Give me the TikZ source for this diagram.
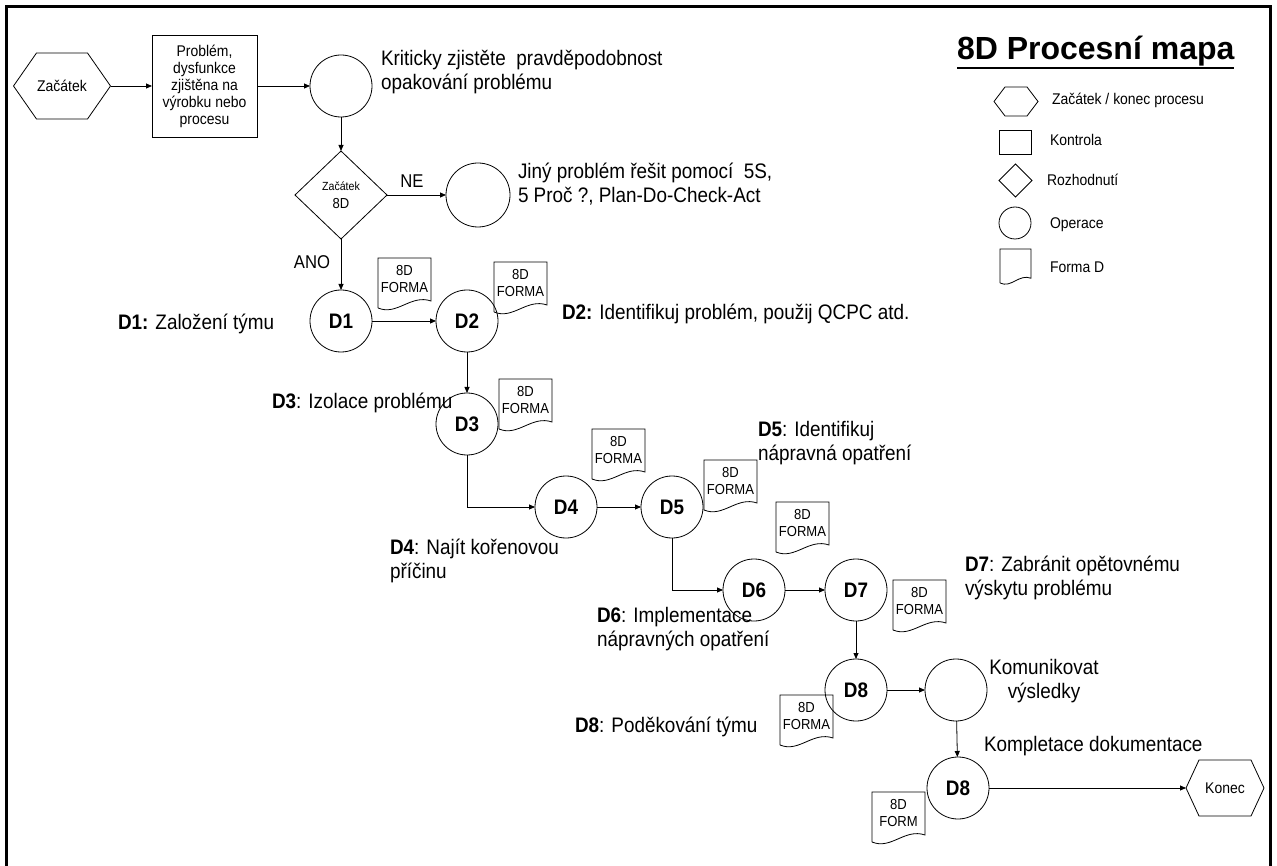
\documentclass[tikz,border=0pt]{standalone}
\usepackage{fontspec}
\setmainfont{Liberation Sans}[FakeStretch=0.9]
\newfontfamily\titlefont{Liberation Sans}
\usetikzlibrary{arrows.meta,shapes.geometric}

% "8D" document symbol: name, x, y (top-left), width, left height, text
\newcommand{\formD}[6]{%
  \draw[shp] (#2,#3+#5) -- (#2,#3) -- (#2+#4,#3) -- (#2+#4,#3+0.86*#5)
    .. controls (#2+0.62*#4,#3+0.72*#5) and (#2+0.36*#4,#3+1.16*#5) .. (#2,#3+#5);
  \node[formtext] (#1) at (#2+0.5*#4,#3+0.42*#5) {#6};
}
% hexagon outline around a (borderless) rectangular node
\newcommand{\hexout}[2]{%
  \draw[shp] (#1.west) -- ([xshift=#2]#1.north west) -- ([xshift=-#2]#1.north east)
    -- (#1.east) -- ([xshift=-#2]#1.south east) -- ([xshift=#2]#1.south west) -- cycle;
}

\begin{document}
\begin{tikzpicture}[x=1pt,y=-1pt,
  every node/.style={inner sep=0pt, outer sep=0pt},
  shp/.style={draw, line width=0.8pt},
  flow/.style={line width=0.8pt, -{Triangle[length=6pt,width=5pt]}},
  opcirc/.style={shp, circle, minimum size=62pt},
  dcirc/.style={opcirc, font=\fontsize{21}{24}\selectfont\bfseries},
  lbl/.style={font=\fontsize{21}{24}\selectfont, align=left, anchor=west},
  small/.style={font=\fontsize{15.5}{17}\selectfont, align=center},
  formtext/.style={font=\fontsize{14.5}{17.5}\selectfont, align=center},
  legtext/.style={font=\fontsize{15.5}{17}\selectfont, anchor=west},
  yesno/.style={font=\fontsize{18.5}{20}\selectfont},
]
\useasboundingbox (0,0) rectangle (1277,866);
\fill[white] (0,0) rectangle (1277,866);

% page frame
\draw[line width=3pt, line join=miter] (6,866) -- (6,7) -- (1270,7) -- (1270,866);

% title
\node[font=\titlefont\fontsize{32}{36}\selectfont\bfseries, anchor=base west] (title) at (957,60) {8D Procesní mapa};
\draw[line width=2.5pt] ([yshift=-8pt]title.base west) -- ([yshift=-8pt]title.base east);

% legend
\node[minimum width=44pt, minimum height=29pt] (lhex) at (1016,101.5) {};
\hexout{lhex}{11pt}
\node[legtext] (lhext) at (1052,100) {Začátek / konec procesu};
\node[shp, minimum width=32pt, minimum height=24pt] (lrect) at (1015,142) {};
\node[legtext] (lrectt) at (1050,140) {Kontrola};
\node[shp, diamond, minimum width=33pt, minimum height=33pt] (ldia) at (1015.5,180.5) {};
\node[legtext] (ldiat) at (1047,180) {Rozhodnutí};
\node[shp, circle, minimum size=32pt] (lcirc) at (1015,223) {};
\node[legtext] (lcirct) at (1050,225) {Operace};
\formD{lform}{1000}{249}{31}{34}{}
\node[legtext] (lformt) at (1050,267) {Forma D};

% start, check and first operation
\node[minimum width=97pt, minimum height=66pt, small] (start) at (62,86) {Začátek};
\hexout{start}{23pt}
\node[shp, small, minimum width=105pt, minimum height=102pt] (chk) at (204.5,86)
  {Problém,\\dysfunkce\\zjištěna na\\výrobku nebo\\procesu};
\node[opcirc] (op1) at (341,86) {};
\node[lbl] (t1) at (381,72) {Kriticky zjistěte\ \ pravděpodobnost\\opakování problému};

% decision
\node[shp, diamond, minimum width=92pt, minimum height=88pt, align=center,
      font=\fontsize{14.5}{18}\selectfont] (dec) at (341,195)
  {{\fontsize{11.8}{12}\selectfont Začátek}\\8D};
\node[yesno] (ne) at (412,181) {NE};
\node[opcirc, minimum size=64pt] (op2) at (478,195) {};
\node[lbl] (t2) at (518,184.5) {Jiný problém řešit pomocí\ \ 5S,\\5 Proč ?, Plan-Do-Check-Act};
\node[yesno] (ano) at (312,262) {ANO};

% 8D steps
\node[dcirc] (d1) at (341,321) {D1};
\node[dcirc] (d2) at (467,321) {D2};
\node[dcirc] (d3) at (467,424) {D3};
\node[dcirc] (d4) at (566,507) {D4};
\node[dcirc] (d5) at (672,507) {D5};
\node[dcirc] (d6) at (754,590) {D6};
\node[dcirc] (d7) at (856,590) {D7};
\node[dcirc] (d8a) at (856,690) {D8};
\node[opcirc] (op3) at (956,690) {};
\node[dcirc] (d8b) at (958,788) {D8};
\node[minimum width=78pt, minimum height=56pt, small] (konec) at (1225,788) {Konec};
\hexout{konec}{13pt}

% step descriptions
\node[lbl] (l1) at (118,324) {\textbf{D1:} Založení týmu};
\node[lbl] (l2) at (562,314) {\textbf{D2:} Identifikuj problém, použij QCPC atd.};
\node[lbl] (l3) at (272,403) {\textbf{D3}: Izolace problému};
\node[lbl] (l4) at (390,561) {\textbf{D4}: Najít kořenovou\\příčinu};
\node[lbl] (l5) at (758,443) {\textbf{D5}: Identifikuj\\nápravná opatření};
\node[lbl] (l6) at (597,629) {\textbf{D6}: Implementace\\nápravných opatření};
\node[lbl] (l7) at (965,578) {\textbf{D7}: Zabránit opětovnému\\výskytu problému};
\node[lbl] (l8) at (575,727) {\textbf{D8}: Poděkování týmu};
\node[lbl, align=center, anchor=center] (l9) at (1044,681) {Komunikovat\\výsledky};
\node[lbl] (l10) at (984,746) {Kompletace dokumentace};

% 8D forms
\formD{f1}{378}{258}{53}{50}{8D\\FORMA}
\formD{f2}{494}{262}{53}{50}{8D\\FORMA}
\formD{f3}{499}{379}{53}{50}{8D\\FORMA}
\formD{f4}{592}{429}{53}{50}{8D\\FORMA}
\formD{f5}{704}{460}{53}{50}{8D\\FORMA}
\formD{f6}{776}{502}{53}{50}{8D\\FORMA}
\formD{f7}{893}{580}{53}{50}{8D\\FORMA}
\formD{f8}{780}{695}{53}{50}{8D\\FORMA}
\formD{f9}{872}{792}{53}{50}{8D\\FORM}

% connectors
\draw[flow] (start) -- (chk);
\draw[flow] (chk) -- (op1);
\draw[flow] (op1) -- (dec);
\draw[flow] (dec) -- (op2);
\draw[flow] (dec) -- (d1);
\draw[flow] (d1) -- (d2);
\draw[flow] (d2) -- (d3);
\draw[flow] (d3.south) |- (d4.west);
\draw[flow] (d4) -- (d5);
\draw[flow] (d5.south) |- (d6.west);
\draw[flow] (d6) -- (d7);
\draw[flow] (d7) -- (d8a);
\draw[flow] (d8a) -- (op3);
\draw[flow] (op3) -- (d8b);
\draw[flow] (d8b) -- (konec);
\end{tikzpicture}
\end{document}
